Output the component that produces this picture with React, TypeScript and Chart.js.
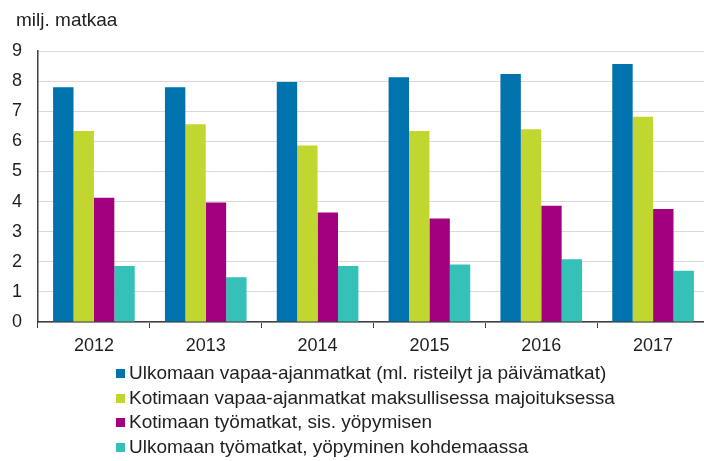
import React, { useEffect, useRef } from "react";
import { Chart, registerables } from "chart.js";

Chart.register(...registerables);

const years = ["2012", "2013", "2014", "2015", "2016", "2017"];
const ulkomaanVapaa = [7.8, 7.8, 7.97, 8.13, 8.24, 8.57];
const kotimaanVapaa = [6.34, 6.57, 5.86, 6.34, 6.4, 6.82];
const kotimaanTyo = [4.13, 3.97, 3.64, 3.44, 3.86, 3.75];
const ulkomaanTyo = [1.86, 1.49, 1.86, 1.91, 2.08, 1.7];
const seriesLabels = [
  "Ulkomaan vapaa-ajanmatkat (ml. risteilyt ja päivämatkat)",
  "Kotimaan vapaa-ajanmatkat maksullisessa majoituksessa",
  "Kotimaan työmatkat, sis. yöpymisen",
  "Ulkomaan työmatkat, yöpyminen kohdemaassa",
];
const seriesColors = ["#0072ae", "#c1d72f", "#a3007f", "#36c1b8"];
const yTicks = [0, 1, 2, 3, 4, 5, 6, 7, 8, 9];
const unitTitle = "milj. matkaa";

const FONT = "'Liberation Sans', Arial, sans-serif";

export default function App() {
  const canvasRef = useRef<HTMLCanvasElement | null>(null);

  useEffect(() => {
    const canvas = canvasRef.current;
    if (!canvas) return;
    const values = [ulkomaanVapaa, kotimaanVapaa, kotimaanTyo, ulkomaanTyo];
    const chart = new Chart(canvas, {
      type: "bar",
      data: {
        labels: years,
        datasets: values.map((v, i) => ({
          label: seriesLabels[i],
          data: v,
          backgroundColor: seriesColors[i],
          borderWidth: 0,
          categoryPercentage: 0.73,
          barPercentage: 1.0,
        })),
      },
      options: {
        responsive: false,
        animation: false,
        devicePixelRatio: 1,
        layout: { padding: { top: 51, left: 0, right: 0, bottom: 0 } },
        plugins: {
          legend: { display: false },
          title: { display: false },
          tooltip: { enabled: false },
        },
        scales: {
          x: {
            afterFit: (scale: any) => {
              scale.height = 40;
            },
            grid: {
              display: true,
              drawOnChartArea: false,
              drawTicks: true,
              tickLength: 6,
              offset: true,
              color: "#404040",
              lineWidth: 1,
            },
            border: { display: true, color: "#404040", width: 1.5 },
            ticks: {
              color: "#1f1f1f",
              font: { family: FONT, size: 18 },
              padding: 7,
              maxRotation: 0,
            },
          },
          y: {
            min: 0,
            max: 9,
            afterFit: (scale: any) => {
              scale.width = 38;
            },
            afterBuildTicks: (scale: any) => {
              scale.ticks = yTicks.map((v) => ({ value: v }));
            },
            grid: {
              color: "#d9d9d9",
              lineWidth: 1,
              drawTicks: false,
            },
            border: { display: true, color: "#404040", width: 1.5 },
            ticks: {
              color: "#1f1f1f",
              font: { family: FONT, size: 18 },
              padding: 16,
            },
          },
        },
      },
    });
    return () => chart.destroy();
  }, []);

  return (
    <div
      style={{
        position: "fixed",
        left: 0,
        top: 0,
        width: 704,
        height: 461,
        overflow: "hidden",
        background: "#fff",
        fontFamily: FONT,
        color: "#1f1f1f",
      }}
    >
      <canvas
        ref={canvasRef}
        width={709}
        height={362}
        style={{ position: "absolute", left: 0, top: 0, width: 709, height: 362 }}
      />
      <div
        style={{
          position: "absolute",
          left: 16,
          top: 10,
          fontSize: 19,
          lineHeight: "19px",
          whiteSpace: "nowrap",
        }}
      >
        {unitTitle}
      </div>
      <div style={{ position: "absolute", left: 116, top: 361 }}>
        {seriesLabels.map((label, i) => (
          <div
            key={label}
            style={{
              fontSize: 19,
              lineHeight: "24.5px",
              height: 24.5,
              whiteSpace: "nowrap",
            }}
          >
            <span
              style={{
                display: "inline-block",
                width: 9,
                height: 9,
                background: seriesColors[i],
                marginRight: 4,
                marginBottom: 1,
                verticalAlign: "baseline",
              }}
            />
            {label}
          </div>
        ))}
      </div>
    </div>
  );
}
